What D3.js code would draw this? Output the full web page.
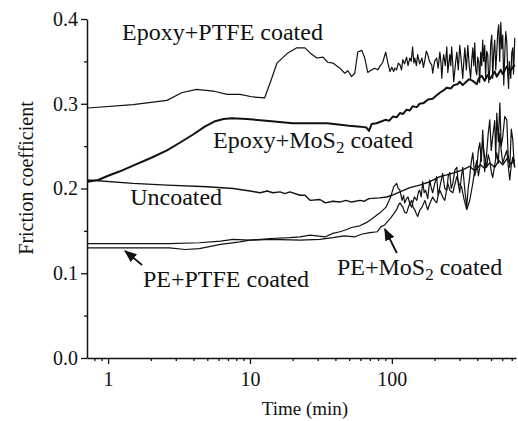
<!DOCTYPE html>
<html>
<head>
<meta charset="utf-8">
<script src="https://cdn.jsdelivr.net/npm/d3@7"></script>
<style>
  body { margin:0; background:#fff; }
</style>
</head>
<body>
<script>
// friction coefficient vs time (log axis)
var epoxyPtfe = [[0.72,0.295],[1.5,0.299],[2.6,0.304],[3.3,0.313],[4.2,0.317],[5.5,0.315],[6.9,0.311],[8.5,0.311],[10.5,0.308],[12.7,0.307],[14.1,0.328],[15.5,0.348],[18.5,0.360],[21.4,0.366],[24.4,0.366],[26.5,0.360],[29.6,0.354],[32.7,0.355],[35.3,0.349],[38.4,0.348],[43,0.342],[46.6,0.336],[49,0.339],[52,0.332],[54.8,0.336],[57.5,0.361],[61.5,0.363],[64.4,0.354],[67.6,0.337],[72.1,0.340],[75.8,0.342],[79.5,0.340],[83,0.345],[86.3,0.349],[90.5,0.361],[93.5,0.349],[97,0.338],
  [100,0.343],[103,0.338],[105,0.342],[108,0.340],[111,0.348],[114,0.346],[117,0.340],[119.5,0.352],[123,0.347],[127,0.355],[130,0.345],[134,0.354],[137,0.350],[140,0.367],[143,0.348],[145,0.354],[149,0.345],[152,0.358],[157,0.347],[163,0.354],[167,0.343],[171,0.352],[175,0.362],[179,0.358],[185,0.349],[191,0.346],[194,0.336],[200,0.350],[207,0.354],[212,0.342],[218,0.361],[222,0.348],[225,0.330],[229,0.350],[232,0.358],[238,0.345],[244,0.367],[248,0.337],[256,0.358],[260,0.345],[264,0.367],[268,0.350],[273,0.326],[280,0.345],[287,0.361],[294,0.340],[301,0.369],[308,0.352],[316,0.330],[321,0.348],[327,0.366],[335,0.340],[343,0.369],[351,0.345],[359,0.330],[365,0.350],[372,0.366],[378,0.345],[384,0.372],[390,0.340],[397,0.334],[403,0.355],[410,0.349],[416,0.325],[423,0.361],[430,0.345],[437,0.375],[444,0.350],[451,0.369],[458,0.330],[466,0.362],[474,0.358],[482,0.325],[490,0.340],[498,0.372],[506,0.381],[514,0.330],[522,0.360],[531,0.375],[540,0.340],[549,0.361],[558,0.385],[567,0.393],[576,0.350],[586,0.396],[595,0.365],[605,0.381],[615,0.322],[625,0.358],[635,0.385],[646,0.373],[656,0.335],[665,0.318],[672,0.350],[678,0.342],[689,0.330],[700,0.360],[712,0.366],[720,0.335],[728,0.355],[735,0.378]];

var epoxyMos2 = [[0.72,0.208],[0.85,0.210],[1.0,0.215],[1.2,0.220],[1.5,0.227],[2.0,0.236],[2.6,0.245],[3.2,0.254],[4.0,0.264],[4.8,0.273],[5.6,0.279],[6.5,0.282],[7.5,0.283],[9.5,0.282],[13,0.280],[20,0.277],[35,0.277],[50,0.274],[60,0.273],[66,0.272],[69,0.268],[72,0.276],[78,0.277],[84,0.279],[90,0.281],[96,0.280],[102,0.285],[108,0.284],[114,0.289],[120,0.288],[127,0.293],[134,0.292],[140,0.297],[150,0.296],[157,0.300],[168,0.301],[180,0.305],[194,0.306],[207,0.310],[218,0.313],[232,0.316],[244,0.319],[260,0.318],[273,0.322],[290,0.323],[301,0.326],[316,0.322],[330,0.325],[350,0.329],[372,0.327],[397,0.323],[410,0.330],[430,0.333],[451,0.327],[474,0.334],[490,0.329],[531,0.338],[549,0.332],[586,0.340],[605,0.335],[646,0.344],[678,0.338],[712,0.343],[735,0.346]];

var uncoated = [[0.72,0.210],[1.5,0.206],[2.6,0.204],[5,0.202],[7.6,0.200],[10,0.197],[11.8,0.195],[13.2,0.197],[14.5,0.195],[16.3,0.196],[17.6,0.194],[19.1,0.196],[22.5,0.192],[24.4,0.192],[26.5,0.186],[31.1,0.187],[34,0.183],[38.4,0.185],[43,0.184],[47.4,0.186],[52,0.184],[59.5,0.186],[64,0.185],[69,0.188],[82,0.189],[92,0.190],[100,0.192],[114,0.196],[134,0.201],[157,0.204],[185,0.208],[218,0.214],[244,0.216],[280,0.219],[316,0.222],[354,0.226],[384,0.221],[420,0.228],[451,0.224],[490,0.230],[531,0.225],[567,0.233],[605,0.228],[646,0.235],[690,0.229],[735,0.234]];

var pePtfe = [[0.72,0.135],[2.7,0.135],[4.4,0.136],[6.2,0.138],[7.6,0.140],[10,0.139],[14,0.141],[19,0.142],[22.5,0.143],[26.5,0.145],[34,0.143],[38.4,0.147],[43,0.149],[47,0.151],[52,0.154],[59.5,0.156],[66.5,0.160],[73.3,0.165],[82,0.171],[91,0.178],
  [98,0.190],[103,0.202],[108,0.206],[111,0.200],[114,0.198],[118,0.186],[121,0.192],[123,0.183],[127,0.188],[130,0.190],[134,0.182],[138,0.178],[144,0.190],[150,0.186],[154,0.196],[157,0.198],[161,0.190],[165,0.208],[169,0.195],[173,0.198],[179,0.188],[185,0.210],[190,0.200],[194,0.195],[200,0.205],[207,0.214],[212,0.192],[218,0.202],[223,0.210],[228,0.218],[236,0.200],[244,0.198],[250,0.215],[256,0.219],[262,0.200],[269,0.206],[278,0.222],[287,0.225],[294,0.205],[301,0.195],[308,0.212],[316,0.225],[326,0.200],[337,0.178],[345,0.200],[354,0.214],[362,0.230],[372,0.242],[384,0.215],[397,0.225],[407,0.245],[417,0.254],[427,0.232],[437,0.269],[451,0.220],[466,0.242],[478,0.265],[490,0.281],[502,0.245],[514,0.261],[531,0.280],[540,0.235],[549,0.289],[563,0.255],[577,0.301],[590,0.250],[605,0.261],[625,0.285],[646,0.281],[660,0.240],[678,0.225],[695,0.270],[712,0.257],[724,0.235],[735,0.225]];

var peMos2 = [[0.72,0.130],[2.7,0.130],[3.5,0.128],[4.4,0.129],[6.2,0.134],[8.5,0.137],[10,0.139],[14,0.140],[22.5,0.139],[31,0.140],[38.4,0.142],[46,0.144],[55,0.143],[61,0.146],[70,0.148],[79,0.149],[84,0.155],[89,0.157],
  [98,0.165],[103,0.170],[108,0.175],[111,0.180],[114,0.183],[119.5,0.178],[123,0.172],[127,0.171],[132,0.180],[138,0.186],[141,0.178],[145,0.175],[149,0.170],[152,0.167],[157,0.174],[163,0.178],[171,0.186],[175,0.180],[179,0.175],[185,0.182],[194,0.190],[200,0.186],[207,0.183],[212,0.192],[218,0.198],[228,0.190],[236,0.186],[242,0.196],[248,0.206],[256,0.198],[269,0.195],[278,0.205],[287,0.214],[298,0.205],[310,0.202],[322,0.188],[337,0.175],[345,0.180],[354,0.186],[362,0.195],[372,0.206],[384,0.222],[397,0.233],[407,0.215],[417,0.225],[427,0.242],[437,0.254],[451,0.238],[466,0.225],[478,0.240],[490,0.233],[502,0.220],[514,0.213],[531,0.228],[549,0.242],[563,0.230],[577,0.265],[590,0.245],[605,0.230],[625,0.238],[646,0.245],[660,0.228],[678,0.210],[695,0.228],[712,0.237],[724,0.230],[735,0.225]];

var xTicks = [1, 10, 100];
var yTicks = [0, 0.1, 0.2, 0.3, 0.4];
var labelNames = ["Epoxy+PTFE coated", "Epoxy+MoS2 coated", "Uncoated", "PE+PTFE coated", "PE+MoS2 coated"];

var FONT = "'Liberation Serif', Tinos, 'Times New Roman', Times, 'DejaVu Serif', serif";

// plot box
var W = 518, H = 421;
var x = d3.scaleLog().domain([0.71, 750]).range([87, 516]);
var y = d3.scaleLinear().domain([0, 0.4]).range([358, 19]);

var svg = d3.select("body").append("svg")
  .attr("width", W)
  .attr("height", H)
  .attr("font-family", FONT);

var line = d3.line()
  .x(function(d) { return x(d[0]); })
  .y(function(d) { return y(d[1]); });

var series = [
  { data: epoxyPtfe, w: 1.2 },
  { data: epoxyMos2, w: 2.0 },
  { data: uncoated,  w: 1.4 },
  { data: pePtfe,    w: 1.2 },
  { data: peMos2,    w: 1.2 }
];

svg.append("g").selectAll("path")
  .data(series)
  .enter().append("path")
    .attr("d", function(s) { return line(s.data); })
    .attr("fill", "none")
    .attr("stroke", "#111")
    .attr("stroke-width", function(s) { return s.w; })
    .attr("stroke-linejoin", "round");

// axes
var xAxis = d3.axisBottom(x).tickValues(xTicks).tickFormat(d3.format("d")).tickSize(6).tickSizeOuter(0);
var xMinor = d3.axisBottom(x)
  .tickValues(x.ticks().filter(function(t) { return xTicks.indexOf(t) < 0; }))
  .tickFormat("").tickSize(3).tickSizeOuter(0);
var yAxis = d3.axisLeft(y).tickValues(yTicks).tickFormat(d3.format(".1f")).tickSize(6).tickSizeOuter(0);
var yMinor = d3.axisLeft(y).tickValues([0.05, 0.15, 0.25, 0.35]).tickFormat("").tickSize(3).tickSizeOuter(0);

var gx = svg.append("g").attr("transform", "translate(0,358)").call(xAxis);
svg.append("g").attr("transform", "translate(0,358)").call(xMinor).select(".domain").remove();
var gy = svg.append("g").attr("transform", "translate(87,0)").call(yAxis);
svg.append("g").attr("transform", "translate(87,0)").call(yMinor).select(".domain").remove();

svg.selectAll("g").attr("font-family", FONT);
svg.selectAll(".domain").attr("stroke", "#111").attr("stroke-width", 1.5);
svg.selectAll(".tick line").attr("stroke", "#111").attr("stroke-width", 1.3);
gx.selectAll("text").attr("font-size", 20).attr("fill", "#111").attr("dy", "0.95em");
gy.selectAll("text").attr("font-size", 20).attr("fill", "#111").attr("x", -9);

svg.append("text")
  .attr("x", 305).attr("y", 415)
  .attr("text-anchor", "middle")
  .attr("font-size", 19)
  .attr("fill", "#111")
  .text("Time (min)");

svg.append("text")
  .attr("transform", "translate(33,178) rotate(-90)")
  .attr("text-anchor", "middle")
  .attr("font-size", 20)
  .attr("fill", "#111")
  .text("Friction coefficient");

// curve labels, anchored in data coordinates
var labelPos = [[1.255, 0.375], [5.49, 0.248], [1.43, 0.1805], [1.76, 0.0838], [41.0, 0.098]];

labelNames.forEach(function(name, i) {
  var t = svg.append("text")
    .attr("x", x(labelPos[i][0]))
    .attr("y", y(labelPos[i][1]))
    .attr("font-size", 24)
    .attr("fill", "#111");
  var m = name.indexOf("MoS2");
  if (m < 0) { t.text(name); return; }
  t.append("tspan").text(name.slice(0, m + 3));
  t.append("tspan").attr("dy", 5).attr("font-size", 17).text("2");
  t.append("tspan").attr("dy", -5).text(name.slice(m + 4));
});

// arrows
svg.append("defs").append("marker")
  .attr("id", "head")
  .attr("viewBox", "0 0 10 10")
  .attr("refX", 9).attr("refY", 5)
  .attr("markerWidth", 7).attr("markerHeight", 7)
  .attr("orient", "auto")
  .append("path").attr("d", "M0,1L10,5L0,9Z").attr("fill", "#111");

var arrows = [
  [[1.736, 0.1097], [1.318, 0.1263]],
  [[108.4, 0.1239], [89.3, 0.1522]]
];
svg.append("g").selectAll("line")
  .data(arrows)
  .enter().append("line")
    .attr("x1", function(a) { return x(a[0][0]); })
    .attr("y1", function(a) { return y(a[0][1]); })
    .attr("x2", function(a) { return x(a[1][0]); })
    .attr("y2", function(a) { return y(a[1][1]); })
    .attr("stroke", "#111")
    .attr("stroke-width", 1.8)
    .attr("marker-end", "url(#head)");
</script>
</body>
</html>
